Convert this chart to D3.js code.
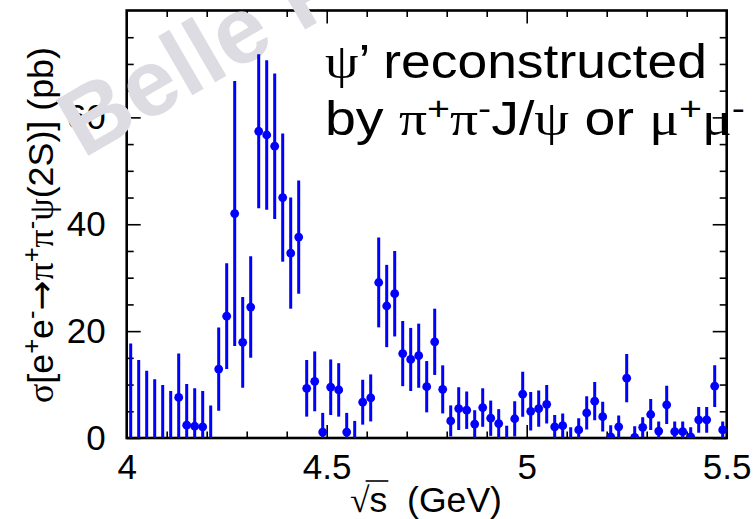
<!DOCTYPE html>
<html>
<head>
<meta charset="utf-8">
<script src="https://cdn.jsdelivr.net/npm/d3@7"></script>
<style>
  html, body { margin: 0; padding: 0; background: #fff; }
  svg { display: block; }
</style>
</head>
<body>
<svg id="chart" width="756" height="519"></svg>
<script>
// sqrt(s) bin centres (GeV)
const energy = [
  4.01, 4.03, 4.05, 4.07, 4.09, 4.11, 4.13, 4.15, 4.17, 4.19,
  4.21, 4.23, 4.25, 4.27, 4.29, 4.31, 4.33, 4.35, 4.37, 4.39,
  4.41, 4.43, 4.45, 4.47, 4.49, 4.51, 4.53, 4.55, 4.57, 4.59,
  4.61, 4.63, 4.65, 4.67, 4.69, 4.71, 4.73, 4.75, 4.77, 4.79,
  4.81, 4.83, 4.85, 4.87, 4.89, 4.91, 4.93, 4.95, 4.97, 4.99,
  5.01, 5.03, 5.05, 5.07, 5.09, 5.11, 5.13, 5.15, 5.17, 5.19,
  5.21, 5.23, 5.25, 5.27, 5.29, 5.31, 5.33, 5.35, 5.37, 5.39,
  5.41, 5.43, 5.45, 5.47, 5.49
];
// cross section (pb)
const xsec = [
  -1, -1, -1, -1, -1, -1, 7.6, 2.4, 2.2, 2.1,
  -1, 12.9, 22.8, 42.0, 17.9, 24.5, 57.4, 56.7, 54.6, 45.0,
  34.6, 37.6, 9.3, 10.6, 1.1, 9.5, 9.0, 1.1, -1, 6.7,
  7.5, 29.1, 24.7, 27.0, 15.8, 14.7, 15.4, 9.6, 18.0, 9.1,
  3.2, 5.5, 5.2, 2.6, 5.7, 3.7, 2.7, -1, 3.6, 8.2,
  5.0, 5.5, 6.3, 2.1, 2.3, -1, 1.5, 4.7, 6.9, 4.0,
  0.2, 2.1, 11.2, 0.1, 2.0, 4.4, 1.3, 6.2, 1.2, 1.2,
  0.2, 3.4, 3.4, 9.7, 1.5
];
// statistical error (pb)
const xsecErr = [
  18.7, 15.6, 13.6, 12.0, 10.9, 9.8, 8.2, 7.7, 7.1, 6.7,
  7.1, 7.8, 9.9, 24.8, 8.5, 9.5, 14.4, 14.0, 13.6, 12.0,
  10.4, 10.6, 5.3, 5.6, 3.6, 5.2, 5.0, 3.6, 4.2, 4.2,
  4.4, 8.4, 7.7, 8.0, 6.1, 5.9, 6.0, 4.8, 6.2, 4.5,
  2.9, 4.0, 3.5, 2.6, 3.6, 3.3, 2.7, 3.3, 3.3, 4.2,
  3.6, 3.4, 3.6, 2.2, 2.3, 3.0, 2.2, 3.1, 3.6, 2.8,
  2.2, 2.1, 4.5, 2.1, 1.9, 2.9, 1.8, 3.6, 1.9, 1.9,
  1.8, 2.4, 2.4, 3.9, 1.6
];

const xMajorTicks = [4, 4.5, 5, 5.5];
const xTickLabels = ["4", "4.5", "5", "5.5"];
const xMinorTicks = [4.1, 4.2, 4.3, 4.4, 4.6, 4.7, 4.8, 4.9, 5.1, 5.2, 5.3, 5.4];
const yMajorTicks = [0, 20, 40, 60];
const yTickLabels = ["0", "20", "40", "60"];
const yMinorTicks = [5, 10, 15, 25, 30, 35, 45, 50, 55, 65, 70, 75];

const SANS = '"Liberation Sans", Arial, Helvetica, sans-serif';
const SERIF = '"Liberation Serif", "DejaVu Serif", "Times New Roman", serif';
const ARROW = '"DejaVu Sans", sans-serif';
const BLUE = "#0000ff";

const W = 756, H = 519;
const frame = { left: 126.7, right: 726.7, top: 10.5, bottom: 438 };

const svg = d3.select("#chart");
svg.append("rect").attr("width", W).attr("height", H).attr("fill", "#fff");

const x = d3.scaleLinear().domain([4, 5.5]).range([frame.left, frame.right]);
const y = d3.scaleLinear().domain([0, 80]).range([frame.bottom, frame.top]);

function styleAxis(g) {
  g.select(".domain").remove();
  g.selectAll(".tick line").attr("stroke", "#000").attr("stroke-width", 1.6);
  g.selectAll(".tick text")
    .attr("font-family", SANS)
    .attr("font-size", 35)
    .attr("fill", "#000");
}

// bottom axis: labelled major ticks + minor ticks, all pointing inward
svg.append("g")
  .attr("transform", `translate(0,${frame.bottom})`)
  .call(d3.axisBottom(x).tickValues(xMajorTicks)
    .tickFormat((d, i) => xTickLabels[i])
    .tickSize(-13).tickSizeOuter(0).tickPadding(16))
  .call(styleAxis);
svg.append("g")
  .attr("transform", `translate(0,${frame.bottom})`)
  .call(d3.axisBottom(x).tickValues(xMinorTicks).tickFormat("")
    .tickSize(-6.5).tickSizeOuter(0))
  .call(styleAxis);

// top axis: ticks only
svg.append("g")
  .attr("transform", `translate(0,${frame.top})`)
  .call(d3.axisTop(x).tickValues(xMajorTicks).tickFormat("")
    .tickSize(-13).tickSizeOuter(0))
  .call(styleAxis);
svg.append("g")
  .attr("transform", `translate(0,${frame.top})`)
  .call(d3.axisTop(x).tickValues(xMinorTicks).tickFormat("")
    .tickSize(-6.5).tickSizeOuter(0))
  .call(styleAxis);

// left axis
svg.append("g")
  .attr("transform", `translate(${frame.left},0)`)
  .call(d3.axisLeft(y).tickValues(yMajorTicks)
    .tickFormat((d, i) => yTickLabels[i])
    .tickSize(-14).tickSizeOuter(0).tickPadding(21))
  .call(styleAxis);
svg.append("g")
  .attr("transform", `translate(${frame.left},0)`)
  .call(d3.axisLeft(y).tickValues(yMinorTicks).tickFormat("")
    .tickSize(-7).tickSizeOuter(0))
  .call(styleAxis);

// right axis: ticks only
svg.append("g")
  .attr("transform", `translate(${frame.right},0)`)
  .call(d3.axisRight(y).tickValues(yMajorTicks).tickFormat("")
    .tickSize(-14).tickSizeOuter(0))
  .call(styleAxis);
svg.append("g")
  .attr("transform", `translate(${frame.right},0)`)
  .call(d3.axisRight(y).tickValues(yMinorTicks).tickFormat("")
    .tickSize(-7).tickSizeOuter(0))
  .call(styleAxis);

// frame
svg.append("rect")
  .attr("x", frame.left).attr("y", frame.top)
  .attr("width", frame.right - frame.left)
  .attr("height", frame.bottom - frame.top)
  .attr("fill", "none").attr("stroke", "#000").attr("stroke-width", 2.6);

// helper: append text runs (plain / Greek / superscript) to a text element
function addRuns(textSel, runs, supSize, supShift) {
  runs.forEach(r => {
    const t = textSel.append("tspan").text(r.t)
      .attr("font-family", r.font || (r.serif ? SERIF : SANS));
    if (r.sup) t.attr("font-size", supSize).attr("baseline-shift", supShift);
  });
}

// y-axis title
const yTitleG = svg.append("g");
const yTitle = yTitleG.append("text")
  .attr("font-family", SANS).attr("font-size", 35).attr("fill", "#000");
addRuns(yTitle, [
  { t: "σ", serif: true }, { t: "[e" }, { t: "+", sup: true }, { t: "e" }, { t: "-", sup: true },
  { t: "→", font: ARROW }, { t: "π", serif: true }, { t: "+", sup: true },
  { t: "π", serif: true }, { t: "-", sup: true }, { t: "ψ", serif: true },
  { t: "(2S)] (pb)" }
], 25, 13);
{
  const len = yTitle.node().getComputedTextLength();
  const s = 356 / len;
  yTitleG.attr("transform", `translate(53,403) rotate(-90) scale(${s},1)`);
}

// x-axis title: sqrt(s) with a bar over the s
const xTitleG = svg.append("g");
const radical = xTitleG.append("text")
  .attr("font-family", SERIF).attr("font-size", 35).attr("fill", "#000")
  .text("√");
const rw = radical.node().getComputedTextLength();
const xTitle = xTitleG.append("text")
  .attr("x", rw)
  .attr("font-family", SANS).attr("font-size", 35).attr("fill", "#000")
  .style("white-space", "pre")
  .text("s  (GeV)");
{
  const n = xTitle.node();
  const sw = n.getSubStringLength(0, 1);
  const s = 152 / (rw + n.getComputedTextLength());
  xTitleG.attr("transform", `translate(350,512) scale(${s},1)`);
  xTitleG.append("line")
    .attr("x1", rw * 0.8).attr("x2", rw + sw + 1)
    .attr("y1", -31).attr("y2", -31)
    .attr("stroke", "#000").attr("stroke-width", 1.6);
}

// watermark
svg.append("text")
  .attr("transform", "translate(83,159) rotate(-30.2)")
  .attr("font-family", SANS).attr("font-weight", "bold")
  .attr("font-size", 94).attr("fill", "#dcdce2")
  .text("Belle Preliminary");

// data: error bars and markers, clipped to the frame
svg.append("clipPath").attr("id", "plotClip")
  .append("rect")
  .attr("x", frame.left).attr("y", frame.top)
  .attr("width", frame.right - frame.left)
  .attr("height", frame.bottom - frame.top);

const points = energy.map((e, i) => ({ e, v: xsec[i], err: xsecErr[i] }));
const dataG = svg.append("g").attr("clip-path", "url(#plotClip)");
dataG.selectAll("line.err").data(points).join("line")
  .attr("class", "err")
  .attr("x1", d => x(d.e)).attr("x2", d => x(d.e))
  .attr("y1", d => y(d.v - d.err)).attr("y2", d => y(d.v + d.err))
  .attr("stroke", BLUE).attr("stroke-width", 3);
dataG.selectAll("circle.pt").data(points).join("circle")
  .attr("class", "pt")
  .attr("cx", d => x(d.e)).attr("cy", d => y(d.v))
  .attr("r", 4.4).attr("fill", BLUE);

// label inside the frame
const titleG1 = svg.append("g");
const t1 = titleG1.append("text").attr("font-size", 48).attr("fill", "#000");
addRuns(t1, [{ t: "ψ", serif: true }, { t: "’ reconstructed" }], 34, 15);
const titleG2 = svg.append("g");
const t2 = titleG2.append("text").attr("font-size", 48).attr("fill", "#000");
addRuns(t2, [
  { t: "by " }, { t: "π", serif: true }, { t: "+", sup: true },
  { t: "π", serif: true }, { t: "-", sup: true }, { t: "J/" },
  { t: "ψ", serif: true }, { t: " or " }, { t: "μ", serif: true },
  { t: "+", sup: true }, { t: "μ", serif: true }, { t: "-", sup: true }
], 34, 15);
{
  const s1 = 382 / t1.node().getComputedTextLength();
  const s2 = 420 / t2.node().getComputedTextLength();
  titleG1.attr("transform", `translate(325,78) scale(${s1},1)`);
  titleG2.attr("transform", `translate(325,135) scale(${s2},1)`);
}
</script>
</body>
</html>
